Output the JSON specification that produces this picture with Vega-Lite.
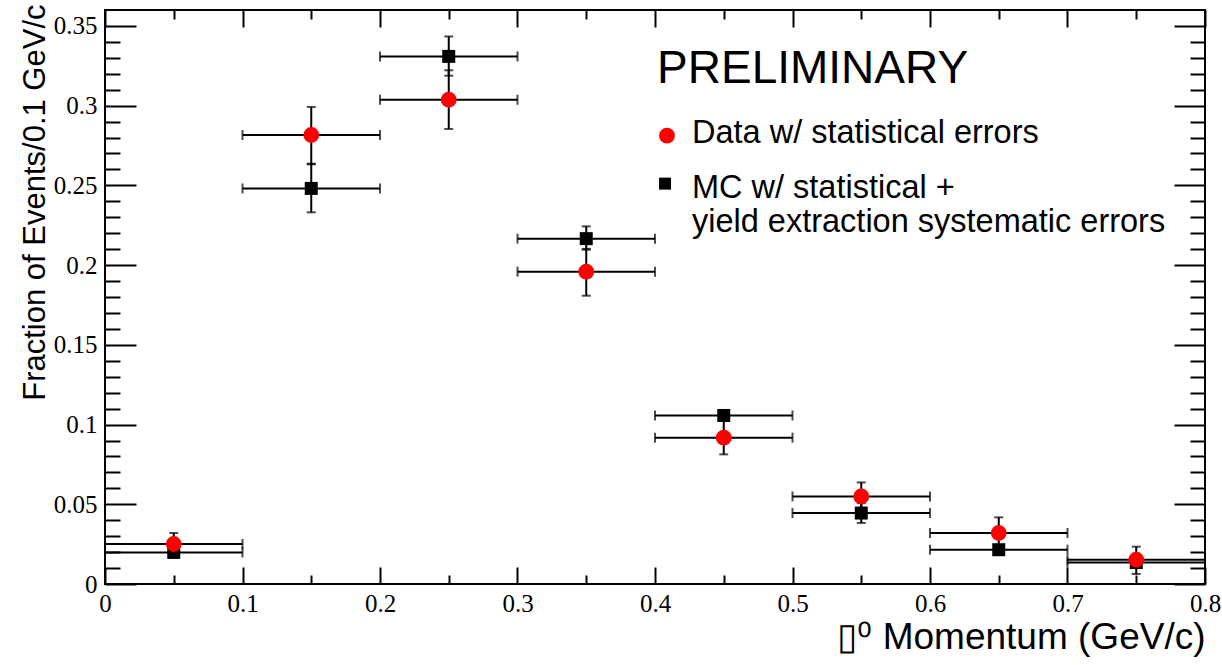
{
  "$schema": "https://vega.github.io/schema/vega-lite/v6.json",
  "width": 1100,
  "height": 574,
  "autosize": {"type": "none"},
  "padding": {"left": 105, "top": 10, "right": 17, "bottom": 81},
  "background": "white",
  "config": {
    "view": {"stroke": "black", "strokeWidth": 2},
    "axis": {"grid": false, "domain": false, "tickColor": "black", "tickWidth": 2, "labelColor": "black", "labelFont": "Liberation Serif", "labelFontSize": 25, "titleColor": "black", "titleFont": "Liberation Sans", "titleFontWeight": "normal", "labelFlush": false, "labelOverlap": false}
  },
  "datasets": {
    "points": [
      {"series": "Data", "p": 0.05, "pLow": 0.0, "pHigh": 0.1, "frac": 0.0251, "fracLow": 0.0182, "fracHigh": 0.0320},
      {"series": "Data", "p": 0.15, "pLow": 0.1, "pHigh": 0.2, "frac": 0.2816, "fracLow": 0.2632, "fracHigh": 0.2992},
      {"series": "Data", "p": 0.25, "pLow": 0.2, "pHigh": 0.3, "frac": 0.3037, "fracLow": 0.2854, "fracHigh": 0.3222},
      {"series": "Data", "p": 0.35, "pLow": 0.3, "pHigh": 0.4, "frac": 0.1959, "fracLow": 0.1808, "fracHigh": 0.2102},
      {"series": "Data", "p": 0.45, "pLow": 0.4, "pHigh": 0.5, "frac": 0.0918, "fracLow": 0.0813, "fracHigh": 0.1023},
      {"series": "Data", "p": 0.55, "pLow": 0.5, "pHigh": 0.6, "frac": 0.0549, "fracLow": 0.0461, "fracHigh": 0.0637},
      {"series": "Data", "p": 0.65, "pLow": 0.6, "pHigh": 0.7, "frac": 0.0320, "fracLow": 0.0222, "fracHigh": 0.0418},
      {"series": "Data", "p": 0.75, "pLow": 0.7, "pHigh": 0.8, "frac": 0.0152, "fracLow": 0.0063, "fracHigh": 0.0234},
      {"series": "MC", "p": 0.05, "pLow": 0.0, "pHigh": 0.1, "frac": 0.0198, "fracLow": 0.0183, "fracHigh": 0.0213},
      {"series": "MC", "p": 0.15, "pLow": 0.1, "pHigh": 0.2, "frac": 0.2481, "fracLow": 0.2331, "fracHigh": 0.2636},
      {"series": "MC", "p": 0.25, "pLow": 0.2, "pHigh": 0.3, "frac": 0.3309, "fracLow": 0.3188, "fracHigh": 0.3434},
      {"series": "MC", "p": 0.35, "pLow": 0.3, "pHigh": 0.4, "frac": 0.2166, "fracLow": 0.2097, "fracHigh": 0.2243},
      {"series": "MC", "p": 0.45, "pLow": 0.4, "pHigh": 0.5, "frac": 0.1057, "fracLow": 0.1042, "fracHigh": 0.1072},
      {"series": "MC", "p": 0.55, "pLow": 0.5, "pHigh": 0.6, "frac": 0.0445, "fracLow": 0.0383, "fracHigh": 0.0507},
      {"series": "MC", "p": 0.65, "pLow": 0.6, "pHigh": 0.7, "frac": 0.0215, "fracLow": 0.0200, "fracHigh": 0.0230},
      {"series": "MC", "p": 0.75, "pLow": 0.7, "pHigh": 0.8, "frac": 0.0135, "fracLow": 0.0120, "fracHigh": 0.0150}
    ]
  },
  "data": {"name": "points"},
  "resolve": {"axis": {"x": "independent", "y": "independent"}},
  "layer": [
    {
      "mark": {"type": "rule", "color": "black", "strokeWidth": 2},
      "encoding": {
        "x": {"field": "pLow", "type": "quantitative", "scale": {"domain": [0, 0.8], "nice": false, "zero": false},
          "axis": {"orient": "bottom", "values": [0, 0.1, 0.2, 0.3, 0.4, 0.5, 0.6, 0.7, 0.8], "format": "~g", "ticks": false, "tickSize": 0, "labelPadding": 7,
            "title": "▯⁰ Momentum (GeV/c)", "titleFontSize": 37, "titleAnchor": "end", "titleAlign": "right", "titleBaseline": "alphabetic", "titleY": 64}},
        "x2": {"field": "pHigh"},
        "y": {"field": "frac", "type": "quantitative", "scale": {"domain": [0, 0.36], "nice": false},
          "axis": {"orient": "left", "values": [0, 0.05, 0.1, 0.15, 0.2, 0.25, 0.3, 0.35], "format": "~g", "ticks": false, "tickSize": 0, "labelPadding": 8,
            "title": "Fraction of Events/0.1 GeV/c", "titleFontSize": 31, "titleAngle": -90, "titleAlign": "right", "titleBaseline": "alphabetic", "titleX": -61, "titleY": -6}}
      }
    },
    {
      "mark": {"type": "rule", "color": "black", "strokeWidth": 2},
      "encoding": {
        "x": {"field": "p", "type": "quantitative", "scale": {"domain": [0, 0.8], "nice": false, "zero": false},
          "axis": {"orient": "bottom", "values": [0, 0.1, 0.2, 0.3, 0.4, 0.5, 0.6, 0.7, 0.8], "labels": false, "tickSize": -17, "title": null}},
        "y": {"field": "fracLow", "type": "quantitative", "scale": {"domain": [0, 0.36], "nice": false},
          "axis": {"orient": "left", "values": [0, 0.05, 0.1, 0.15, 0.2, 0.25, 0.3, 0.35], "labels": false, "tickSize": -31, "title": null}},
        "y2": {"field": "fracHigh"}
      }
    },
    {
      "mark": {"type": "tick", "orient": "vertical", "size": 10, "thickness": 2, "color": "black"},
      "encoding": {
        "x": {"field": "pLow", "type": "quantitative", "scale": {"domain": [0, 0.8], "nice": false, "zero": false},
          "axis": {"orient": "bottom", "values": [0.05, 0.15, 0.25, 0.35, 0.45, 0.55, 0.65, 0.75], "labels": false, "tickSize": -9, "title": null}},
        "y": {"field": "frac", "type": "quantitative", "scale": {"domain": [0, 0.36], "nice": false},
          "axis": {"orient": "left", "values": [0.01, 0.02, 0.03, 0.04, 0.06, 0.07, 0.08, 0.09, 0.11, 0.12, 0.13, 0.14, 0.16, 0.17, 0.18, 0.19, 0.21, 0.22, 0.23, 0.24, 0.26, 0.27, 0.28, 0.29, 0.31, 0.32, 0.33, 0.34], "labels": false, "tickSize": -15, "title": null}}
      }
    },
    {
      "mark": {"type": "tick", "orient": "vertical", "size": 10, "thickness": 2, "color": "black"},
      "encoding": {
        "x": {"field": "pHigh", "type": "quantitative", "scale": {"domain": [0, 0.8], "nice": false, "zero": false},
          "axis": {"orient": "top", "values": [0, 0.1, 0.2, 0.3, 0.4, 0.5, 0.6, 0.7, 0.8], "labels": false, "tickSize": -17, "title": null}},
        "y": {"field": "frac", "type": "quantitative", "scale": {"domain": [0, 0.36], "nice": false},
          "axis": {"orient": "right", "values": [0, 0.05, 0.1, 0.15, 0.2, 0.25, 0.3, 0.35], "labels": false, "tickSize": -31, "title": null}}
      }
    },
    {
      "mark": {"type": "tick", "orient": "horizontal", "size": 9, "thickness": 2, "color": "black"},
      "encoding": {
        "x": {"field": "p", "type": "quantitative", "scale": {"domain": [0, 0.8], "nice": false, "zero": false},
          "axis": {"orient": "top", "values": [0.05, 0.15, 0.25, 0.35, 0.45, 0.55, 0.65, 0.75], "labels": false, "tickSize": -9, "title": null}},
        "y": {"field": "fracLow", "type": "quantitative", "scale": {"domain": [0, 0.36], "nice": false},
          "axis": {"orient": "right", "values": [0.01, 0.02, 0.03, 0.04, 0.06, 0.07, 0.08, 0.09, 0.11, 0.12, 0.13, 0.14, 0.16, 0.17, 0.18, 0.19, 0.21, 0.22, 0.23, 0.24, 0.26, 0.27, 0.28, 0.29, 0.31, 0.32, 0.33, 0.34], "labels": false, "tickSize": -15, "title": null}}
      }
    },
    {
      "mark": {"type": "tick", "orient": "horizontal", "size": 9, "thickness": 2, "color": "black"},
      "encoding": {
        "x": {"field": "p", "type": "quantitative", "scale": {"domain": [0, 0.8], "nice": false, "zero": false}, "axis": null},
        "y": {"field": "fracHigh", "type": "quantitative", "scale": {"domain": [0, 0.36], "nice": false}, "axis": null}
      }
    },
    {
      "transform": [{"filter": "datum.series === 'MC'"}],
      "mark": {"type": "point", "shape": "square", "filled": true, "color": "black", "size": 169, "opacity": 1},
      "encoding": {
        "x": {"field": "p", "type": "quantitative", "scale": {"domain": [0, 0.8], "nice": false, "zero": false}, "axis": null},
        "y": {"field": "frac", "type": "quantitative", "scale": {"domain": [0, 0.36], "nice": false}, "axis": null}
      }
    },
    {
      "transform": [{"filter": "datum.series === 'Data'"}],
      "mark": {"type": "point", "shape": "circle", "filled": true, "color": "#ff0000", "size": 250, "opacity": 1},
      "encoding": {
        "x": {"field": "p", "type": "quantitative", "scale": {"domain": [0, 0.8], "nice": false, "zero": false}, "axis": null},
        "y": {"field": "frac", "type": "quantitative", "scale": {"domain": [0, 0.36], "nice": false}, "axis": null}
      }
    },
    {
      "data": {"values": [{}]},
      "mark": {"type": "text", "text": "PRELIMINARY", "font": "Liberation Sans", "fontSize": 46, "align": "left", "baseline": "alphabetic", "color": "black"},
      "encoding": {
        "x": {"datum": 0.4015, "type": "quantitative", "scale": {"domain": [0, 0.8], "nice": false, "zero": false}, "axis": null},
        "y": {"datum": 0.3144, "type": "quantitative", "scale": {"domain": [0, 0.36], "nice": false}, "axis": null}
      }
    },
    {
      "data": {"values": [{}]},
      "mark": {"type": "point", "shape": "circle", "filled": true, "color": "#ff0000", "size": 250, "opacity": 1},
      "encoding": {
        "x": {"datum": 0.4087, "type": "quantitative", "scale": {"domain": [0, 0.8], "nice": false, "zero": false}, "axis": null},
        "y": {"datum": 0.2812, "type": "quantitative", "scale": {"domain": [0, 0.36], "nice": false}, "axis": null}
      }
    },
    {
      "data": {"values": [{}]},
      "mark": {"type": "text", "text": "Data w/ statistical errors", "font": "Liberation Sans", "fontSize": 32.5, "align": "left", "baseline": "alphabetic", "color": "black"},
      "encoding": {
        "x": {"datum": 0.4269, "type": "quantitative", "scale": {"domain": [0, 0.8], "nice": false, "zero": false}, "axis": null},
        "y": {"datum": 0.2766, "type": "quantitative", "scale": {"domain": [0, 0.36], "nice": false}, "axis": null}
      }
    },
    {
      "data": {"values": [{}]},
      "mark": {"type": "point", "shape": "square", "filled": true, "color": "black", "size": 144, "opacity": 1},
      "encoding": {
        "x": {"datum": 0.4073, "type": "quantitative", "scale": {"domain": [0, 0.8], "nice": false, "zero": false}, "axis": null},
        "y": {"datum": 0.2511, "type": "quantitative", "scale": {"domain": [0, 0.36], "nice": false}, "axis": null}
      }
    },
    {
      "data": {"values": [{}]},
      "mark": {"type": "text", "text": "MC w/ statistical +", "font": "Liberation Sans", "fontSize": 32.5, "align": "left", "baseline": "alphabetic", "color": "black"},
      "encoding": {
        "x": {"datum": 0.4269, "type": "quantitative", "scale": {"domain": [0, 0.8], "nice": false, "zero": false}, "axis": null},
        "y": {"datum": 0.2418, "type": "quantitative", "scale": {"domain": [0, 0.36], "nice": false}, "axis": null}
      }
    },
    {
      "data": {"values": [{}]},
      "mark": {"type": "text", "text": "yield extraction systematic errors", "font": "Liberation Sans", "fontSize": 32.5, "align": "left", "baseline": "alphabetic", "color": "black"},
      "encoding": {
        "x": {"datum": 0.4269, "type": "quantitative", "scale": {"domain": [0, 0.8], "nice": false, "zero": false}, "axis": null},
        "y": {"datum": 0.2206, "type": "quantitative", "scale": {"domain": [0, 0.36], "nice": false}, "axis": null}
      }
    }
  ]
}
